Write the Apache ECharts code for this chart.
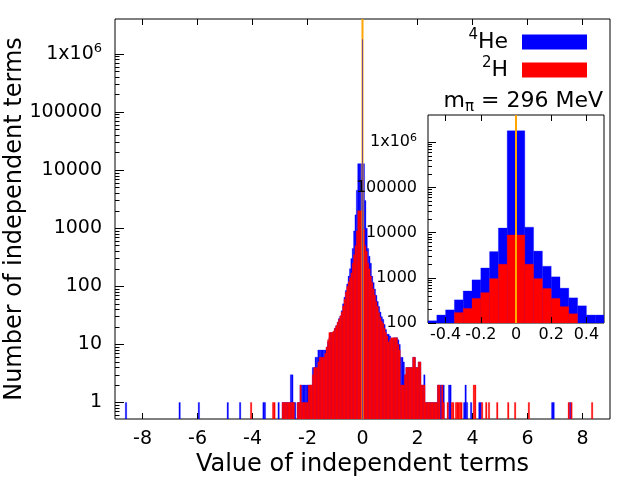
<!DOCTYPE html>
<html>
<head>
<meta charset="utf-8">
<script src="https://cdn.jsdelivr.net/npm/echarts@6.0.0/dist/echarts.min.js"></script>
<style>
  html, body { margin: 0; padding: 0; background: #fff; }
  #chart { width: 640px; height: 480px; }
</style>
</head>
<body>
<div id="chart"></div>
<script>
// main histogram: bins of 0.05 centred on multiples of 0.05, core from -3.0 to 3.0
const mainBinWidth = 0.05;
const coreStart = -3.0;
const blueCore = [
  0, 0, 1, 1, 1, 1, 1, 1, 3, 3, 1, 1, 0, 1, 1, 2, 2, 2, 2, 2, 2, 2, 2, 2, 4,
  4, 6, 6, 8, 8, 8, 8, 8, 8, 9, 11, 13, 16, 16, 16, 19, 21, 24, 28, 31, 38, 50, 65, 85, 110,
  150, 200, 300, 450, 900, 1700, 4500, 12900, 12900,
  12900,
  12900, 12900, 3000, 1000, 450, 330, 250, 150, 116, 90, 70, 55, 45, 36, 30, 27, 22, 18, 15, 15,
  14, 12, 12, 13, 13, 13, 12, 10, 6, 6, 5, 3, 4, 4, 4, 4, 4, 6, 6, 4,
  4, 5, 5, 2, 2, 3, 1, 1, 1, 1, 1, 1, 1, 1, 1, 2, 2, 2, 2, 2
];
const redCore = [
  0, 0, 1, 1, 1, 1, 1, 1, 1, 1, 1, 0, 0, 1, 1, 2, 1, 1, 1, 1, 1, 2, 2, 2, 3,
  4, 4, 4, 5, 6, 6, 6, 6, 7, 9, 12, 16, 16, 16, 17, 19, 21, 24, 27, 31, 36, 46, 60, 80, 100,
  120, 140, 170, 250, 350, 500, 900, 2000, 2000,
  2000,
  2000, 950, 500, 400, 250, 200, 150, 116, 90, 70, 55, 45, 35, 29, 25, 23, 19, 16, 14, 11,
  12, 13, 13, 13, 13, 13, 10, 8, 2, 2, 2, 3, 4, 4, 4, 4, 4, 6, 6, 4,
  4, 5, 5, 2, 2, 2, 1, 1, 1, 1, 1, 1, 1, 1, 1, 2, 2, 0, 2, 1
];
// isolated bins outside the core: [bin centre, count]
const blueTails = [
  [-8.6, 1], [-6.65, 1], [-5.95, 1], [-4.9, 1], [-4.45, 1], [-3.6, 1], [-3.55, 1], [-3.05, 1],
  [3.15, 2], [3.2, 2], [3.7, 1], [3.75, 2], [3.8, 1], [3.95, 1], [4.25, 1], [4.3, 1],
  [6.9, 1], [6.95, 1], [7.55, 1]
];
const redTails = [
  [-4.05, 1], [-3.25, 1], [-3.2, 1],
  [3.1, 1], [3.25, 1], [3.3, 1], [3.4, 1], [3.45, 1], [3.5, 1], [3.55, 1], [3.6, 1],
  [4.05, 2], [4.1, 2], [4.35, 1], [4.5, 1], [4.6, 1], [4.9, 1], [5.3, 1], [5.55, 1],
  [6.05, 1], [7.5, 1], [7.6, 1], [8.35, 1]
];
// terms that are exactly zero (narrow spike)
const zeroSpike = [[0, 1800000]];
const spikeWidth = 0.02;

// inset: bins of 0.05 from -0.5 to 0.5
const insetStart = -0.5;
const insetBinWidth = 0.05;
const insetBlue = [112, 150, 195, 325, 510, 900, 1650, 3800, 12600, 1800000,
                   1800000, 13200, 3900, 1800, 1050, 590, 360, 240, 150, 150];
const insetRed = [0, 0, 0, 170, 210, 350, 470, 960, 2000, 8900,
                  8900, 2000, 960, 580, 350, 230, 160, 0, 0, 0];

const markerX = 0;
const mainXTicks = [-8, -6, -4, -2, 0, 2, 4, 6, 8];
const mainYTicks = [1, 10, 100, 1000, 10000, 100000, 1000000];
const mainYLabels = ['1', '10', '100', '1000', '10000', '100000', '1x10{sup|6}'];
const insetXTicks = [-0.4, -0.2, 0, 0.2, 0.4];
const insetYTicks = [100, 1000, 10000, 100000, 1000000];
const insetYLabels = ['100', '1000', '10000', '100000', '1x10{sup|6}'];
const seriesNames = ['4He', '2H'];
const legendLabels = ['{sup|4}{b|He}', '{sup|2}{b|H}'];

const FONT = 'DejaVu Sans';
const BLUE = '#0000ff', RED = '#ff0000', ORANGE = '#ffa500';

function fromCounts(start, width, counts, centred) {
  const out = [];
  counts.forEach((c, i) => {
    if (c <= 0) return;
    const x0 = centred ? start + i * width - width / 2 : start + i * width;
    out.push([x0, x0 + width, c]);
  });
  return out;
}
function fromPairs(pairs, width) {
  return pairs.map(p => [p[0] - width / 2, p[0] + width / 2, p[1]]);
}
function minorTicks(lo, hi) {
  const t = [];
  for (let d = lo; d < hi; d *= 10) {
    for (let m = 2; m <= 9; m++) t.push(m * d);
  }
  return t;
}
function labelFor(ticks, labels) {
  return v => {
    let best = 0;
    ticks.forEach((t, i) => {
      if (Math.abs(Math.log10(t / v)) < Math.abs(Math.log10(ticks[best] / v))) best = i;
    });
    return labels[best];
  };
}
function renderBin(outline) {
  return (params, api) => {
    const a = api.coord([api.value(0), api.value(2)]);
    const b = api.coord([api.value(1), api.value(2)]);
    const base = params.coordSys.y + params.coordSys.height;
    const color = api.visual('color');
    return {
      type: 'rect',
      shape: { x: a[0], y: a[1], width: b[0] - a[0], height: base - a[1] },
      style: outline ? { fill: color, stroke: color, lineWidth: 0.3 } : { fill: color }
    };
  };
}
// vertical marker across the whole height of the grid
function renderMarker(params, api) {
  const x = api.coord([api.value(0), 1000])[0];
  const cs = params.coordSys;
  return {
    type: 'line',
    shape: { x1: x, y1: cs.y, x2: x, y2: cs.y + cs.height },
    style: { stroke: ORANGE, lineWidth: 2 }
  };
}

const blueMain = fromCounts(coreStart, mainBinWidth, blueCore, true).concat(fromPairs(blueTails, mainBinWidth));
const redMain = fromCounts(coreStart, mainBinWidth, redCore, true).concat(fromPairs(redTails, mainBinWidth));
const spikeMain = fromPairs(zeroSpike, spikeWidth);
const blueInset = fromCounts(insetStart, insetBinWidth, insetBlue, false);
const redInset = fromCounts(insetStart, insetBinWidth, insetRed, false);

const chart = echarts.init(document.getElementById('chart'));

const tickStyle = { lineStyle: { color: '#000', width: 1 } };
const noLine = { show: false, onZero: false };
const supRich = (size, lh) => ({ sup: { fontSize: size, fontFamily: FONT, color: '#000', lineHeight: lh, verticalAlign: 'top' } });

chart.setOption({
  animation: false,
  backgroundColor: '#fff',
  textStyle: { fontFamily: FONT },
  grid: [
    { left: 115, right: 30, top: 19, bottom: 61, containLabel: false, outerBoundsMode: 'none',
      show: true, borderColor: '#000', borderWidth: 1, backgroundColor: 'transparent' },
    { left: 428, right: 36, top: 115, bottom: 157, containLabel: false, outerBoundsMode: 'none',
      show: true, borderColor: '#000', borderWidth: 1, backgroundColor: '#fff', z: 10 }
  ],
  legend: {
    data: seriesNames,
    orient: 'vertical',
    align: 'right',
    right: 48,
    top: 23,
    itemWidth: 65,
    itemHeight: 15,
    itemGap: 0,
    icon: 'rect',
    formatter: name => legendLabels[seriesNames.indexOf(name)],
    textStyle: {
      fontSize: 22, fontFamily: FONT, color: '#000', lineHeight: 28, padding: [0, 9, 0, 0],
      rich: Object.assign({ b: { fontSize: 22, fontFamily: FONT, color: '#000', lineHeight: 28, verticalAlign: 'middle' } }, supRich(15, 15))
    }
  },
  graphic: [{
    type: 'text',
    right: 37,
    top: 90,
    style: {
      text: '{m|m}{s|\u03c0}{m| = 296 MeV}',
      fill: '#000',
      font: '22px ' + FONT,
      rich: {
        m: { fontSize: 22, fontFamily: FONT, lineHeight: 28, verticalAlign: 'middle' },
        s: { fontSize: 15, fontFamily: FONT, lineHeight: 16, verticalAlign: 'bottom' }
      }
    }
  }],
  xAxis: [
    {
      type: 'value', gridIndex: 0, min: -9, max: 9,
      axisLine: noLine, splitLine: { show: false },
      axisTick: { show: true, inside: true, length: 6, customValues: mainXTicks, ...tickStyle },
      axisLabel: { customValues: mainXTicks, fontSize: 19, color: '#000', margin: 11, fontFamily: FONT },
      name: 'Value of independent terms', nameLocation: 'middle', nameGap: 34, nameMoveOverlap: false,
      nameTextStyle: { fontSize: 24, color: '#000', fontFamily: FONT }
    },
    {
      type: 'value', gridIndex: 0, min: -9, max: 9, position: 'top',
      axisLine: noLine, splitLine: { show: false },
      axisTick: { show: true, inside: true, length: 6, customValues: mainXTicks, ...tickStyle },
      axisLabel: { show: false }
    },
    {
      type: 'value', gridIndex: 1, min: -0.5, max: 0.5, z: 12,
      axisLine: noLine, splitLine: { show: false },
      axisTick: { show: true, inside: true, length: 6, customValues: insetXTicks, ...tickStyle },
      axisLabel: { customValues: insetXTicks, fontSize: 16, color: '#000', margin: 4, fontFamily: FONT, hideOverlap: false }
    },
    {
      type: 'value', gridIndex: 1, min: -0.5, max: 0.5, position: 'top', z: 12,
      axisLine: noLine, splitLine: { show: false },
      axisTick: { show: true, inside: true, length: 6, customValues: insetXTicks, ...tickStyle },
      axisLabel: { show: false }
    }
  ],
  yAxis: [
    {
      type: 'log', gridIndex: 0, min: 0.52, max: 4000000, logBase: 10, position: 'left',
      axisLine: noLine, splitLine: { show: false }, minorTick: { show: false },
      axisTick: { show: true, inside: true, length: 9, customValues: mainYTicks, ...tickStyle },
      axisLabel: {
        customValues: mainYTicks, formatter: labelFor(mainYTicks, mainYLabels),
        fontSize: 19, color: '#000', margin: 13, fontFamily: FONT, lineHeight: 24, rich: supRich(13, 13)
      },
      name: 'Number of independent terms', nameLocation: 'middle', nameGap: 88, nameMoveOverlap: false,
      nameTextStyle: { fontSize: 24, color: '#000', fontFamily: FONT }
    },
    {
      type: 'log', gridIndex: 0, min: 0.52, max: 4000000, logBase: 10, position: 'left',
      axisLine: noLine, splitLine: { show: false },
      axisTick: { show: true, inside: true, length: 4.5, customValues: minorTicks(0.1, 1e6).filter(v => v > 0.52 && v < 4e6), ...tickStyle },
      axisLabel: { show: false }
    },
    {
      type: 'log', gridIndex: 1, min: 100, max: 4000000, logBase: 10, position: 'left', z: 12,
      axisLine: noLine, splitLine: { show: false },
      axisTick: { show: true, inside: true, length: 8, customValues: insetYTicks, ...tickStyle },
      axisLabel: {
        customValues: insetYTicks, formatter: labelFor(insetYTicks, insetYLabels),
        fontSize: 16, color: '#000', margin: 11, fontFamily: FONT, lineHeight: 20, rich: supRich(11, 11)
      }
    },
    {
      type: 'log', gridIndex: 1, min: 100, max: 4000000, logBase: 10, position: 'left', z: 12,
      axisLine: noLine, splitLine: { show: false },
      axisTick: { show: true, inside: true, length: 4, customValues: minorTicks(100, 1e6).filter(v => v < 4e6), ...tickStyle },
      axisLabel: { show: false }
    }
  ],
  series: [
    {
      type: 'custom', name: seriesNames[0], xAxisIndex: 0, yAxisIndex: 0, z: 2, clip: true,
      itemStyle: { color: BLUE }, renderItem: renderBin(true),
      encode: { x: [0, 1], y: 2 }, data: blueMain
    },
    {
      type: 'custom', name: seriesNames[1], xAxisIndex: 0, yAxisIndex: 0, z: 3, clip: true,
      itemStyle: { color: RED }, renderItem: renderBin(true),
      encode: { x: [0, 1], y: 2 }, data: redMain
    },
    {
      type: 'custom', name: 'marker', xAxisIndex: 0, yAxisIndex: 0, z: 6, silent: true,
      renderItem: renderMarker, encode: { x: 0 }, data: [[markerX]]
    },
    {
      type: 'custom', name: 'zero terms', xAxisIndex: 0, yAxisIndex: 0, z: 8, clip: true,
      itemStyle: { color: BLUE }, renderItem: renderBin(false),
      encode: { x: [0, 1], y: 2 }, data: spikeMain
    },
    {
      type: 'custom', name: seriesNames[0], xAxisIndex: 2, yAxisIndex: 2, z: 11, clip: true,
      itemStyle: { color: BLUE }, renderItem: renderBin(true),
      encode: { x: [0, 1], y: 2 }, data: blueInset
    },
    {
      type: 'custom', name: seriesNames[1], xAxisIndex: 2, yAxisIndex: 2, z: 11, clip: true,
      itemStyle: { color: RED }, renderItem: renderBin(true),
      encode: { x: [0, 1], y: 2 }, data: redInset
    },
    {
      type: 'custom', name: 'marker', xAxisIndex: 2, yAxisIndex: 2, z: 13, silent: true,
      renderItem: renderMarker, encode: { x: 0 }, data: [[markerX]]
    }
  ]
});
</script>
</body>
</html>
